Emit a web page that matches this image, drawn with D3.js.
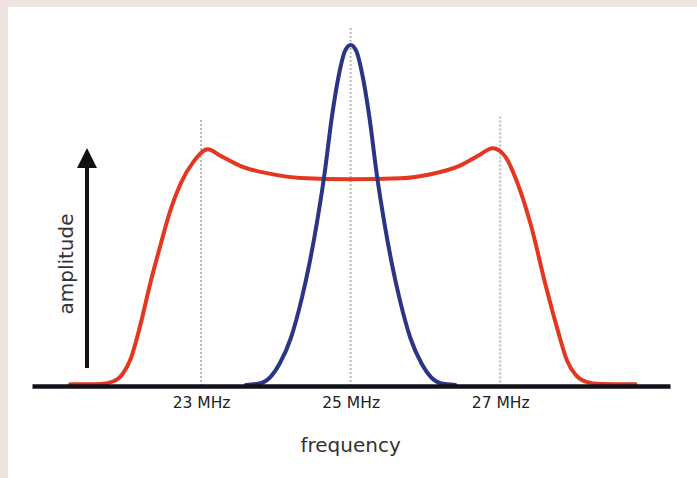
<!DOCTYPE html>
<html>
<head>
<meta charset="utf-8">
<script src="https://cdn.jsdelivr.net/npm/d3@7"></script>
<style>
  html, body { margin: 0; padding: 0; background: #efe3df; }
  svg { display: block; }
</style>
</head>
<body>
<svg id="chart" width="697" height="478"></svg>
<script>
// ---- data ----
const tickValues = [23, 25, 27];
const tickLabels = ["23 MHz", "25 MHz", "27 MHz"];

// red: broad flat-top spectrum (frequency in MHz, normalized amplitude)
const redFreq = [21.25, 21.52, 21.66, 21.83, 21.95, 22.06, 22.19, 22.32, 22.46, 22.59, 22.73, 22.90, 23.09, 23.26, 23.53, 23.93, 24.33, 25.00,
                 25.67, 26.07, 26.47, 26.71, 26.90, 27.07, 27.21, 27.41, 27.61, 27.78, 27.89, 28.01, 28.14, 28.34, 28.81];
const redAmp  = [0.005, 0.005, 0.006, 0.014, 0.035, 0.080, 0.180, 0.300, 0.415, 0.515, 0.595, 0.658, 0.694, 0.675, 0.645, 0.622, 0.610, 0.606,
                 0.609, 0.621, 0.647, 0.676, 0.697, 0.672, 0.607, 0.472, 0.293, 0.155, 0.076, 0.032, 0.013, 0.006, 0.005];

// blue: narrow peak centred at 25 MHz
const blueFreq = [23.6, 23.8, 24.05, 24.2, 24.35, 24.45, 24.55, 24.65, 24.75, 24.85, 24.92, 25.0,
                  25.08, 25.15, 25.25, 25.35, 25.45, 25.55, 25.65, 25.8, 25.95, 26.2, 26.4];
const blueAmp  = [0.003, 0.008, 0.065, 0.14, 0.26, 0.36, 0.48, 0.62, 0.79, 0.92, 0.98, 1.0,
                  0.98, 0.92, 0.79, 0.62, 0.48, 0.36, 0.26, 0.14, 0.065, 0.008, 0.003];

const xLabel = "frequency";
const yLabel = "amplitude";

// ---- drawing ----
const svg = d3.select("#chart");

// white panel
svg.append("rect").attr("x", 8).attr("y", 7).attr("width", 689).attr("height", 471).attr("fill", "#ffffff");

const x = d3.scaleLinear().domain([20.74, 29.27]).range([32, 670]);
const y = d3.scaleLinear().domain([0, 1]).range([386, 45]);

// dotted guide lines
const gridTop = {23: 0.78, 25: 1.05, 27: 0.79};
svg.append("g").selectAll("line").data(tickValues).join("line")
  .attr("x1", d => x(d)).attr("x2", d => x(d))
  .attr("y1", d => y(gridTop[d])).attr("y2", y(0))
  .attr("stroke", "#b8b8c0").attr("stroke-width", 2).attr("stroke-dasharray", "2,2");

const line = d3.line().curve(d3.curveMonotoneX).x(d => x(d[0])).y(d => y(d[1]));

svg.append("path")
  .datum(d3.zip(redFreq, redAmp))
  .attr("d", line).attr("fill", "none")
  .attr("stroke", "#e5361f").attr("stroke-width", 4).attr("stroke-linejoin", "round").attr("stroke-linecap", "round");

svg.append("path")
  .datum(d3.zip(blueFreq, blueAmp))
  .attr("d", line).attr("fill", "none")
  .attr("stroke", "#2a3585").attr("stroke-width", 4).attr("stroke-linejoin", "round").attr("stroke-linecap", "round");

// x axis
const xAxis = d3.axisBottom(x).tickValues(tickValues)
  .tickFormat((d, i) => tickLabels[i]).tickSize(0).tickPadding(17);
const gx = svg.append("g").attr("transform", `translate(0,${y(0)})`).call(xAxis);
gx.select(".domain").attr("stroke", "#111118").attr("stroke-width", 4.5);
gx.selectAll("text").attr("font-family", "DejaVu Sans, Verdana, sans-serif").attr("font-size", 15.5)
  .attr("fill", "#222").attr("dy", "0.35em");

// y arrow
svg.append("defs").append("marker")
  .attr("id", "arrow").attr("viewBox", "0 0 10 10").attr("refX", 5).attr("refY", 5)
  .attr("markerWidth", 5.5).attr("markerHeight", 5).attr("orient", "auto")
  .append("path").attr("d", "M0,0 L10,5 L0,10 Z").attr("fill", "#111");
svg.append("line")
  .attr("x1", 87).attr("x2", 87).attr("y1", 368).attr("y2", 158)
  .attr("stroke", "#111").attr("stroke-width", 4).attr("marker-end", "url(#arrow)");

// labels
svg.append("text").attr("x", x(25)).attr("y", 452).attr("text-anchor", "middle")
  .attr("font-family", "DejaVu Sans, Verdana, sans-serif").attr("font-size", 20)
  .attr("fill", "#333").text(xLabel);
svg.append("text").attr("transform", "translate(73,264) rotate(-90)").attr("text-anchor", "middle")
  .attr("font-family", "DejaVu Sans, Verdana, sans-serif").attr("font-size", 20)
  .attr("fill", "#333").text(yLabel);
</script>
</body>
</html>
